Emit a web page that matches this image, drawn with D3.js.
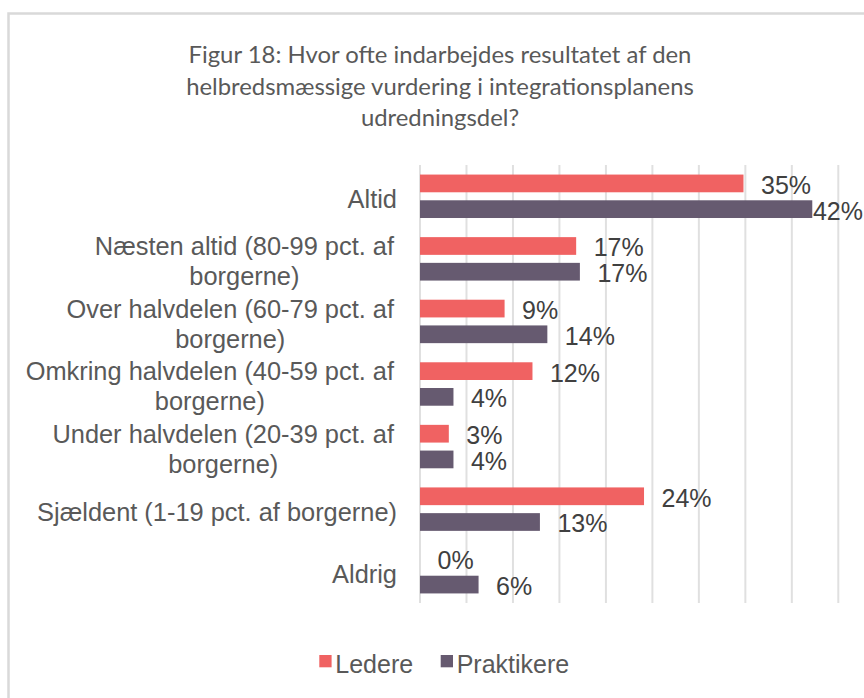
<!DOCTYPE html>
<html>
<head>
<meta charset="utf-8">
<script src="https://cdn.jsdelivr.net/npm/d3@7"></script>
<style>
  html, body { margin: 0; padding: 0; background: #fff; }
  svg { display: block; }
</style>
</head>
<body>
<svg id="chart" width="864" height="698"></svg>
<script>
const titleLines = [
  "Figur 18: Hvor ofte indarbejdes resultatet af den",
  "helbredsmæssige vurdering i integrationsplanens",
  "udredningsdel?"
];
const categories = [
  ["Altid"],
  ["Næsten altid (80-99 pct. af", "borgerne)"],
  ["Over halvdelen (60-79 pct. af", "borgerne)"],
  ["Omkring halvdelen (40-59 pct. af", "borgerne)"],
  ["Under halvdelen (20-39 pct. af", "borgerne)"],
  ["Sjældent (1-19 pct. af borgerne)"],
  ["Aldrig"]
];
const seriesNames = ["Ledere", "Praktikere"];
const ledere     = [34.8, 16.8, 9.1, 12.1, 3.1, 24.1, 0];
const praktikere = [42.2, 17.2, 13.7, 3.6, 3.6, 12.9, 6.3];
const colors = ["#F06262", "#665A70"];
const xTicks = [0, 5, 10, 15, 20, 25, 30, 35, 40, 45];

const svg = d3.select("#chart");
const W = 864, H = 698;
svg.append("rect").attr("width", W).attr("height", H).attr("fill", "#fff");
// chart border
svg.append("rect")
  .attr("x", 8.5).attr("y", 13.5).attr("width", 1000).attr("height", 1000)
  .attr("fill", "none").attr("stroke", "#d9d9d9").attr("stroke-width", 2.5);

// title
const title = svg.append("g");
title.selectAll("text").data(titleLines).join("text")
  .attr("x", 440).attr("y", (d, i) => 63 + i * 31.5)
  .attr("text-anchor", "middle")
  .attr("font-family", "Lato, 'Open Sans', sans-serif")
  .attr("font-size", 24)
  .attr("fill", "#595959")
  .text(d => d);
const t0 = title.select("text").node();
const w0 = t0.getComputedTextLength();
const fs = 24 * 503 / w0;
title.selectAll("text").attr("font-size", fs);

const data = categories.map((c, i) => ({ cat: i, label: c, vals: [ledere[i], praktikere[i]] }));

const x = d3.scaleLinear().domain([0, 45]).range([420, 838.3]);
const y = d3.scaleBand().domain(d3.range(categories.length)).range([165, 603]).paddingInner(0).paddingOuter(0);
const ySub = d3.scaleBand().domain([0, 1]).range([0, y.bandwidth()]).paddingInner(0.311).paddingOuter(0.372);

// gridlines
svg.append("g").selectAll("line").data(xTicks).join("line")
  .attr("x1", d => x(d)).attr("x2", d => x(d))
  .attr("y1", 165).attr("y2", 603)
  .attr("stroke", "#e0e0e0").attr("stroke-width", 2);

// bars
const groups = svg.append("g").selectAll("g").data(data).join("g")
  .attr("transform", d => `translate(0,${y(d.cat)})`);

groups.selectAll("rect").data(d => d.vals.map((v, s) => ({ v, s }))).join("rect")
  .attr("x", x(0))
  .attr("y", d => ySub(d.s))
  .attr("width", d => x(d.v) - x(0))
  .attr("height", ySub.bandwidth())
  .attr("fill", d => colors[d.s]);

// data labels
const labelFont = "'Liberation Sans', Arial, sans-serif";
groups.selectAll("text.val").data(d => d.vals.map((v, s) => ({ v, s }))).join("text")
  .attr("class", "val")
  .attr("font-family", labelFont)
  .attr("font-size", 25)
  .attr("fill", "#404040")
  .attr("y", d => ySub(d.s) + ySub.bandwidth() / 2 + 10.5)
  .text(d => Math.round(d.v) + "%")
  .each(function (d) {
    const tw = this.getComputedTextLength();
    const xx = Math.min(x(d.v) + 17.5, 863 - tw);
    d3.select(this).attr("x", xx);
  });

// category labels: block right-aligned, wrapped lines centred within block
groups.each(function (d) {
  const g = d3.select(this);
  const n = d.label.length;
  const c = y.bandwidth() / 2;
  const texts = d.label.map((line, i) => g.append("text")
      .attr("y", c + 11.5 + (i - (n - 1) / 2) * 30)
      .attr("font-family", labelFont)
      .attr("font-size", 25.4)
      .attr("fill", "#595959")
      .text(line));
  if (n === 1) {
    texts[0].attr("x", 397).attr("text-anchor", "end");
  } else {
    const maxW = d3.max(texts, t => t.node().getComputedTextLength());
    const right = 394;
    texts.forEach(t => t.attr("x", right - maxW / 2).attr("text-anchor", "middle"));
  }
});

// legend
const legendX = [319.3, 440.7];
const legend = svg.append("g").selectAll("g").data(seriesNames).join("g")
  .attr("transform", (d, i) => `translate(${legendX[i]},655)`);
legend.append("rect").attr("width", 12.3).attr("height", 12.3).attr("fill", (d, i) => colors[i]);
legend.append("text")
  .attr("x", 16).attr("y", 18)
  .attr("font-family", labelFont)
  .attr("font-size", 25)
  .attr("fill", "#595959")
  .text(d => d);
</script>
</body>
</html>
